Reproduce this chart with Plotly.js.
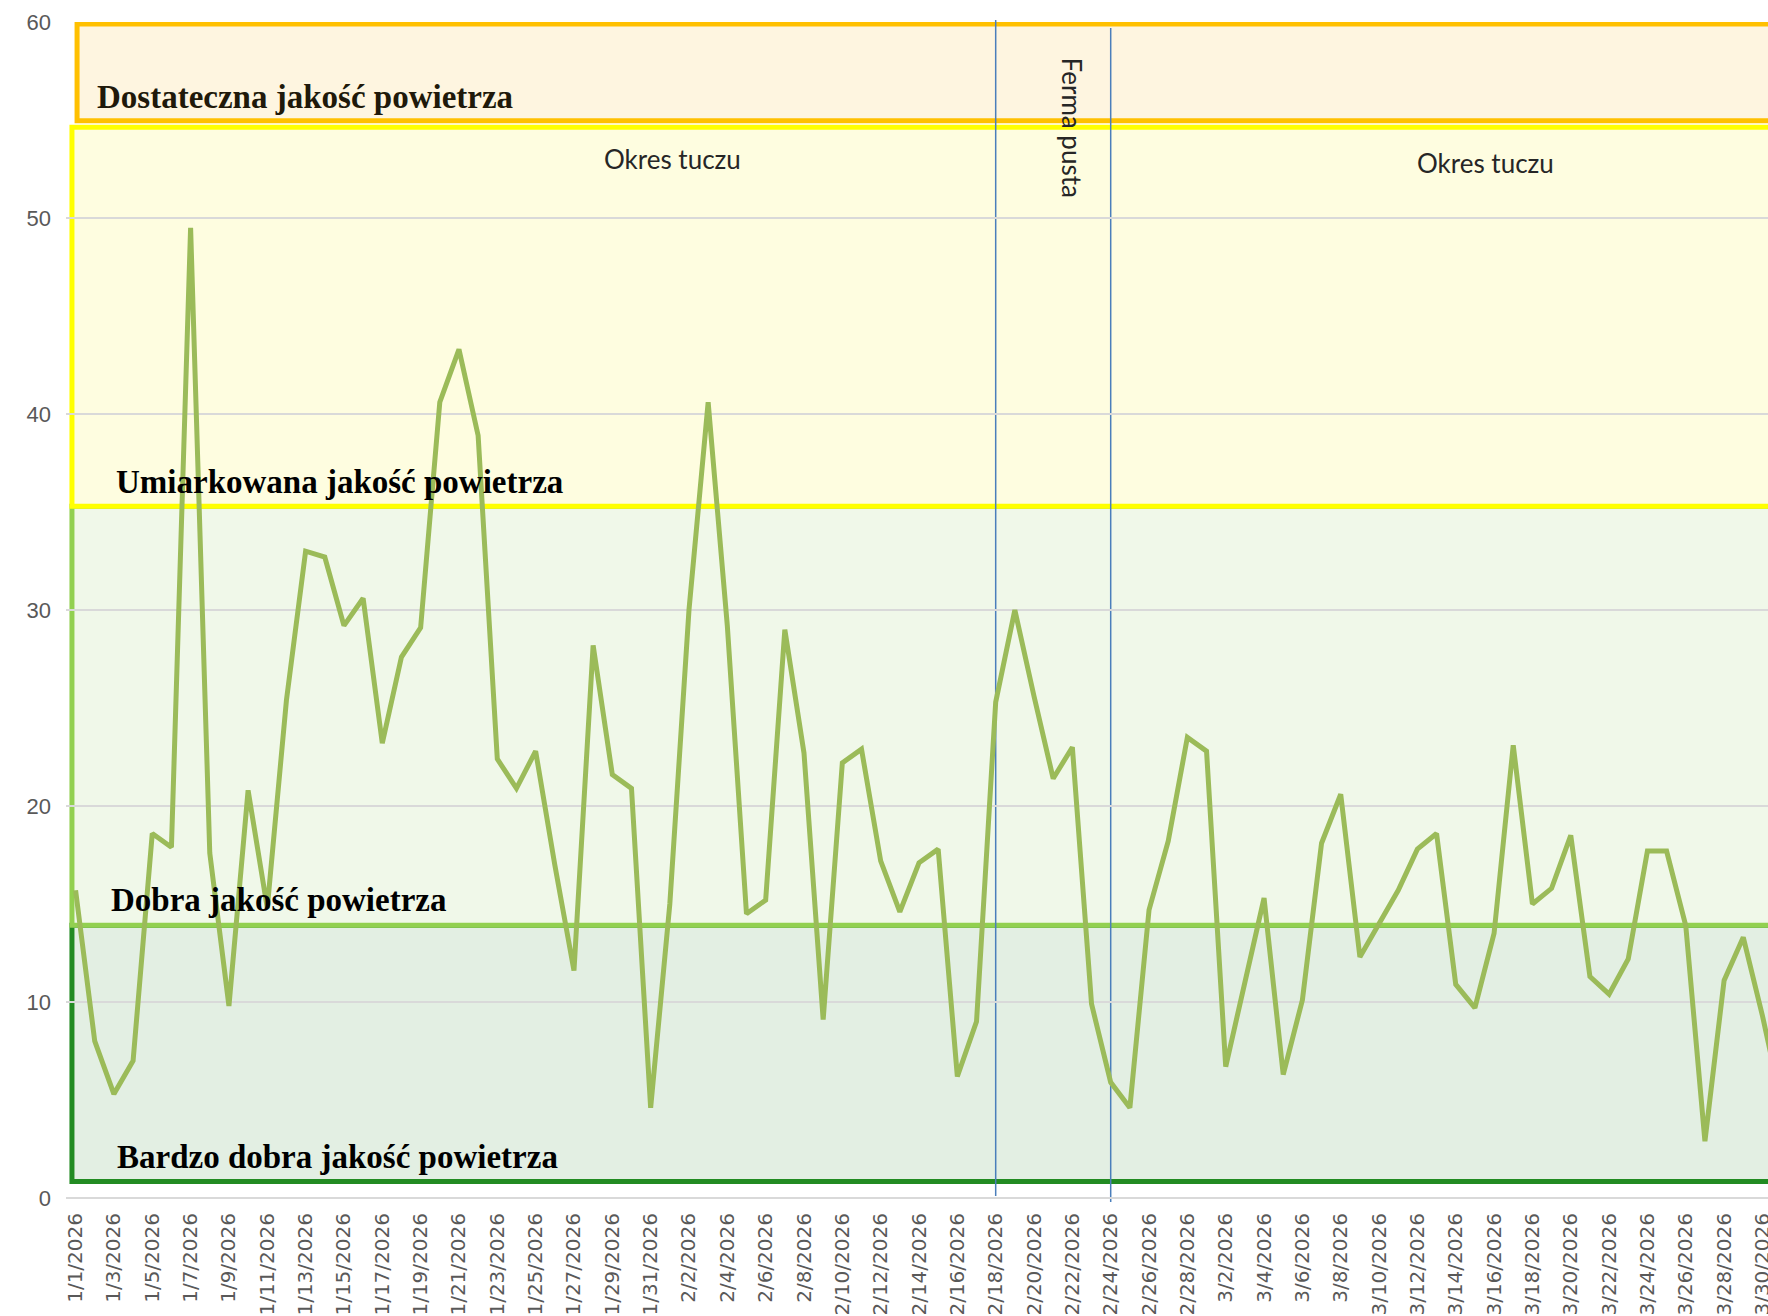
<!DOCTYPE html>
<html>
<head>
<meta charset="utf-8">
<script src="https://cdn.plot.ly/plotly-3.0.1.min.js"></script>
<style>html,body{margin:0;padding:0;background:#fff;}#chart{width:1768px;height:1316px;}</style>
</head>
<body>
<div id="chart"></div>
<script>
// ---- data ----
const dates = [
 '2026-01-01','2026-01-02','2026-01-03','2026-01-04','2026-01-05','2026-01-06','2026-01-07','2026-01-08','2026-01-09','2026-01-10',
 '2026-01-11','2026-01-12','2026-01-13','2026-01-14','2026-01-15','2026-01-16','2026-01-17','2026-01-18','2026-01-19','2026-01-20',
 '2026-01-21','2026-01-22','2026-01-23','2026-01-24','2026-01-25','2026-01-26','2026-01-27','2026-01-28','2026-01-29','2026-01-30',
 '2026-01-31','2026-02-01','2026-02-02','2026-02-03','2026-02-04','2026-02-05','2026-02-06','2026-02-07','2026-02-08','2026-02-09',
 '2026-02-10','2026-02-11','2026-02-12','2026-02-13','2026-02-14','2026-02-15','2026-02-16','2026-02-17','2026-02-18','2026-02-19',
 '2026-02-20','2026-02-21','2026-02-22','2026-02-23','2026-02-24','2026-02-25','2026-02-26','2026-02-27','2026-02-28','2026-03-01',
 '2026-03-02','2026-03-03','2026-03-04','2026-03-05','2026-03-06','2026-03-07','2026-03-08','2026-03-09','2026-03-10','2026-03-11',
 '2026-03-12','2026-03-13','2026-03-14','2026-03-15','2026-03-16','2026-03-17','2026-03-18','2026-03-19','2026-03-20','2026-03-21',
 '2026-03-22','2026-03-23','2026-03-24','2026-03-25','2026-03-26','2026-03-27','2026-03-28','2026-03-29','2026-03-30','2026-03-31'
];
const values = [
 15.7, 8.0, 5.3, 7.0, 18.6, 17.9, 49.5, 17.6, 9.8, 20.8,
 14.8, 25.4, 33.0, 32.7, 29.2, 30.6, 23.2, 27.6, 29.1, 40.6,
 43.3, 38.9, 22.4, 20.9, 22.8, 17.0, 11.6, 28.2, 21.6, 20.9,
 4.6, 15.0, 30.0, 40.6, 29.2, 14.5, 15.2, 29.0, 22.7, 9.1,
 22.2, 22.9, 17.2, 14.6, 17.1, 17.8, 6.2, 9.0, 25.3, 30.0,
 25.6, 21.4, 23.0, 9.9, 5.9, 4.6, 14.7, 18.2, 23.5, 22.8,
 6.7, 11.0, 15.3, 6.3, 10.1, 18.1, 20.6, 12.3, 14.0, 15.7,
 17.8, 18.6, 10.9, 9.7, 13.5, 23.1, 15.0, 15.8, 18.5, 11.3,
 10.4, 12.2, 17.7, 17.7, 13.9, 2.9, 11.1, 13.3, 9.3, 4.8
];
// air-quality bands (low, high)
const bandNames = ['Bardzo dobra jakość powietrza', 'Dobra jakość powietrza', 'Umiarkowana jakość powietrza', 'Dostateczna jakość powietrza'];
const bandLow  = [0.84, 13.92, 35.29, 54.96];
const bandHigh = [13.92, 35.29, 54.63, 59.9];
// farm periods
const periodLabels = ['Okres tuczu', 'Ferma pusta', 'Okres tuczu'];
const periodBounds = ['2026-02-18', '2026-02-24'];

// ---- styles ----
const bandFill   = ['#E3EFE3', '#F0F8E9', '#FEFDE0', '#FEF5E0'];
const bandBorder = ['#228B22', '#92D050', '#FFFF00', '#FFC000'];
const bandLeft   = [0.0035, 0.0035, 0.0035, 0.0065];
const bandLabelPos = [ {x: 0.0289, y: 2.1}, {x: 0.0255, y: 15.19}, {x: 0.0282, y: 36.51}, {x: 0.0170, y: 56.15} ];
const bandLabelColor = ['#000000', '#000000', '#000000', '#20190A'];

const shapes = [];
for (let i = 0; i < bandNames.length; i++) {
  shapes.push({
    type: 'rect', layer: 'below', xref: 'paper', yref: 'y',
    x0: bandLeft[i], x1: 1.02, y0: bandLow[i], y1: bandHigh[i],
    fillcolor: bandFill[i], line: {color: bandBorder[i], width: 5}
  });
}
const lineTop = [60.1, 59.7];
const lineBot = [0.1, -0.2];
periodBounds.forEach((d, i) => {
  shapes.push({
    type: 'line', layer: 'between', xref: 'x', yref: 'paper',
    x0: d, x1: d, y0: lineBot[i] / 60, y1: lineTop[i] / 60,
    line: {color: '#4A7EBB', width: 1.5}
  });
});

const annotations = [];
for (let i = 0; i < bandNames.length; i++) {
  annotations.push({
    text: '<b>' + bandNames[i] + '</b>', xref: 'paper', yref: 'y',
    x: bandLabelPos[i].x, y: bandLabelPos[i].y, xanchor: 'left', yanchor: 'middle',
    showarrow: false,
    font: {family: 'Liberation Serif, serif', size: 33, color: bandLabelColor[i]}
  });
}
const periodPos = [ {x: 0.3564, y: 53.03, a: 0}, {x: 0.5912, y: 54.6, a: 90}, {x: 0.8340, y: 52.8, a: 0} ];
periodLabels.forEach((t, i) => {
  annotations.push({
    text: t, xref: 'paper', yref: 'y', x: periodPos[i].x, y: periodPos[i].y,
    xanchor: 'center', yanchor: 'middle', textangle: periodPos[i].a, showarrow: false,
    font: {family: 'Lato, sans-serif', size: 26, color: '#262626'}
  });
});

const trace = {
  x: dates, y: values, type: 'scatter', mode: 'lines',
  line: {color: '#9BBB59', width: 5},
  hoverinfo: 'x+y'
};

const layout = {
  width: 1768, height: 1316,
  margin: {l: 66, r: 0, t: 22, b: 118, pad: 0},
  paper_bgcolor: '#ffffff', plot_bgcolor: '#ffffff',
  showlegend: false,
  xaxis: {
    type: 'date',
    range: ['2025-12-31 12:00', '2026-03-30 06:58'],
    tick0: '2026-01-01', dtick: 2 * 86400000,
    tickformat: '%-m/%-d/%Y', tickangle: -90,
    showgrid: false, zeroline: false, showline: false, ticks: '',
    ticklabeloverflow: 'allow', ticklabelstandoff: 10,
    tickfont: {family: 'DejaVu Sans, sans-serif', size: 20, color: '#595959'}
  },
  yaxis: {
    range: [0, 60], dtick: 10, tick0: 0,
    showgrid: true, gridcolor: '#D9D9D9', gridwidth: 1.3,
    zeroline: true, zerolinecolor: '#D9D9D9', zerolinewidth: 1.3,
    showline: false, ticks: '', ticklabelstandoff: 14,
    tickfont: {family: 'Liberation Sans, sans-serif', size: 22, color: '#595959'}
  },
  shapes: shapes,
  annotations: annotations
};

Plotly.newPlot('chart', [trace], layout, {displayModeBar: false, staticPlot: true});
</script>
</body>
</html>
